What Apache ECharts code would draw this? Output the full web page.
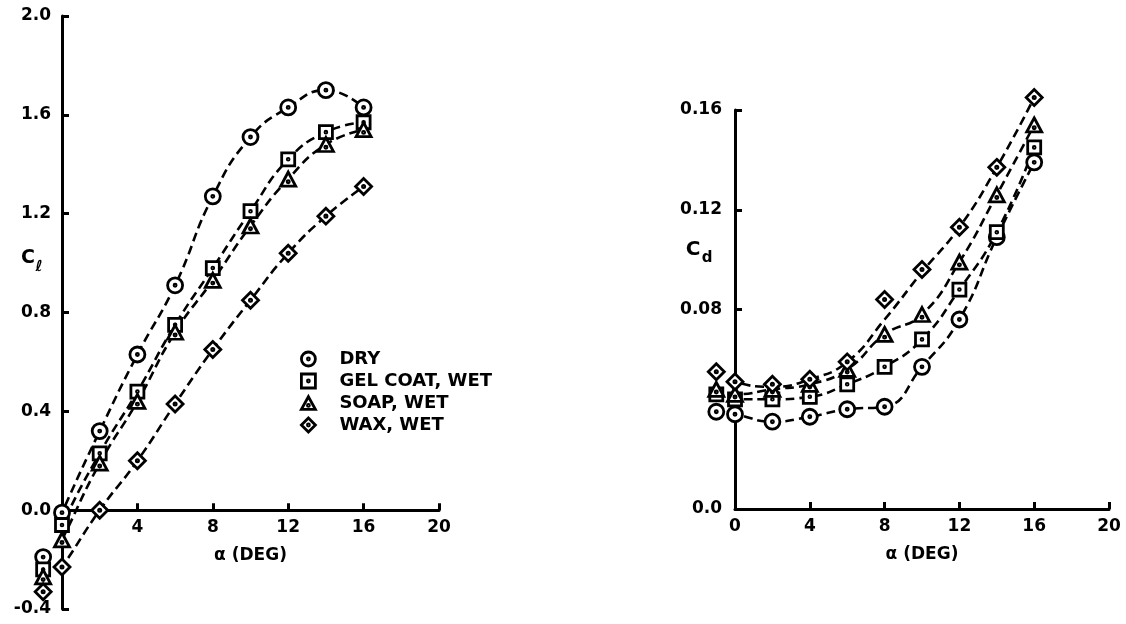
<!DOCTYPE html>
<html>
<head>
<meta charset="utf-8">
<title>Lift and drag coefficients</title>
<script src="https://cdn.jsdelivr.net/npm/echarts@6.0.0/dist/echarts.min.js"></script>
<style>
  html, body { margin: 0; padding: 0; background: #fff; }
  #chart { width: 1126px; height: 624px; }
</style>
</head>
<body>
<div id="chart"></div>
<script>
// Angle of attack (deg) for every measured point
const alpha = [-1, 0, 2, 4, 6, 8, 10, 12, 14, 16];
const seriesNames = ['DRY', 'GEL COAT, WET', 'SOAP, WET', 'WAX, WET'];

// Lift coefficient C_l
const clDry  = [-0.19, -0.01, 0.32, 0.63, 0.91, 1.27, 1.51, 1.63, 1.70, 1.63];
const clGel  = [-0.24, -0.06, 0.23, 0.48, 0.75, 0.98, 1.21, 1.42, 1.53, 1.57];
const clSoap = [-0.27, -0.12, 0.19, 0.44, 0.72, 0.93, 1.15, 1.34, 1.48, 1.54];
const clWax  = [-0.33, -0.23, 0.00, 0.20, 0.43, 0.65, 0.85, 1.04, 1.19, 1.31];

// Drag coefficient C_d
const cdDry  = [0.039, 0.038, 0.035, 0.037, 0.040, 0.041, 0.057, 0.076, 0.109, 0.139];
const cdGel  = [0.046, 0.044, 0.044, 0.045, 0.050, 0.057, 0.068, 0.088, 0.111, 0.145];
const cdSoap = [0.048, 0.046, 0.048, 0.050, 0.056, 0.070, 0.078, 0.099, 0.126, 0.154];
const cdWax  = [0.055, 0.051, 0.050, 0.052, 0.059, 0.084, 0.096, 0.113, 0.137, 0.165];
// Faired curve through the wax drag points (the 8 deg point lies off the curve)
const cdWaxFaired = [0.055, 0.051, 0.049, 0.052, 0.059, 0.076, 0.095, 0.113, 0.137, 0.165];

// Tick values
const xTicks  = [0, 4, 8, 12, 16, 20];
const clTicks = [-0.4, 0, 0.4, 0.8, 1.2, 1.6, 2.0];
const cdTicks = [0, 0.08, 0.12, 0.16];

// Hollow markers with a solid centre dot
const symbols = [
  'path://M0,-10A10,10,0,1,1,0,10A10,10,0,1,1,0,-10ZM0,-1.4A1.4,1.4,0,1,1,0,1.4A1.4,1.4,0,1,1,0,-1.4Z',
  'path://M-10,-10L10,-10L10,10L-10,10ZM0,-1.4A1.4,1.4,0,1,1,0,1.4A1.4,1.4,0,1,1,0,-1.4Z',
  'path://M0,-10L10,8L-10,8ZM0,1.1A1.4,1.4,0,1,1,0,3.9A1.4,1.4,0,1,1,0,1.1Z',
  'path://M0,-10L10,0L0,10L-10,0ZM0,-1.4A1.4,1.4,0,1,1,0,1.4A1.4,1.4,0,1,1,0,-1.4Z'
];
const symbolSizes = [[15, 15], [13, 13], [15, 14], [16, 16]];

const FONT = 'DejaVu Sans';
const INK = '#000';

// Grid geometry (pixels)
const LEFT_GRID = { left: 62, top: 16, width: 377, height: 593 };
const RIGHT_GRID = { left: 735, top: 110, width: 374, height: 399 };
// The lift panel's alpha axis sits at C_l = 0, a sixth of the way up
const LEFT_X_OFFSET = -LEFT_GRID.height * (0 - clTicks[0]) / (clTicks[clTicks.length - 1] - clTicks[0]);

function pairs(values) {
  return alpha.map((a, i) => [a, values[i]]);
}

function axisBase() {
  return {
    type: 'value',
    axisLine: { show: true, onZero: false, lineStyle: { color: INK, width: 3 } },
    axisTick: { show: true, inside: true, length: 7, lineStyle: { color: INK, width: 3 } },
    splitLine: { show: false },
    axisLabel: { color: INK, fontSize: 17, fontWeight: 'bold', fontFamily: FONT }
  };
}

function curve(name, values, xi) {
  return {
    type: 'line', name: name, xAxisIndex: xi, yAxisIndex: xi,
    data: pairs(values), showSymbol: false, smooth: 0.5,
    clip: false, silent: true, z: 2,
    lineStyle: { color: INK, width: 2.6, type: [9, 5] }
  };
}

function points(name, values, xi, k) {
  return {
    type: 'scatter', name: name, xAxisIndex: xi, yAxisIndex: xi,
    data: pairs(values), symbol: symbols[k], symbolSize: symbolSizes[k],
    clip: false, silent: true, z: 3,
    itemStyle: { color: '#fff', borderColor: INK, borderWidth: 2.8, opacity: 1 }
  };
}

const clSets = [clDry, clGel, clSoap, clWax];
const cdSets = [cdDry, cdGel, cdSoap, cdWax];
const cdCurves = [cdDry, cdGel, cdSoap, cdWaxFaired];

const series = [];
seriesNames.forEach((n, k) => {
  series.push(curve(n, clSets[k], 0));
  series.push(curve(n, cdCurves[k], 1));
});
seriesNames.forEach((n, k) => {
  series.push(points(n, clSets[k], 0, k));
  series.push(points(n, cdSets[k], 1, k));
});

const nameStyle = { color: INK, fontSize: 17, fontWeight: 'bold', fontFamily: FONT };

const xLeft = axisBase();
Object.assign(xLeft, {
  gridIndex: 0, min: 0, max: 20, interval: 4, position: 'bottom', offset: LEFT_X_OFFSET,
  name: 'α (DEG)', nameLocation: 'middle', nameGap: 37, nameTextStyle: nameStyle
});
xLeft.axisLabel = Object.assign({}, xLeft.axisLabel, {
  margin: 9, customValues: xTicks, formatter: v => (v === 0 ? '' : String(v))
});
xLeft.axisTick = Object.assign({}, xLeft.axisTick, { customValues: xTicks });

const xRight = axisBase();
Object.assign(xRight, {
  gridIndex: 1, min: 0, max: 20, interval: 4, position: 'bottom',
  name: 'α (DEG)', nameLocation: 'middle', nameGap: 37, nameTextStyle: nameStyle
});
xRight.axisLabel = Object.assign({}, xRight.axisLabel, {
  margin: 9, customValues: xTicks, formatter: v => String(v)
});
xRight.axisTick = Object.assign({}, xRight.axisTick, { customValues: xTicks });

const yLeft = axisBase();
Object.assign(yLeft, { gridIndex: 0, min: -0.4, max: 2.0, interval: 0.4, position: 'left' });
yLeft.axisLabel = Object.assign({}, yLeft.axisLabel, {
  margin: 11, customValues: clTicks,
  formatter: v => (Math.abs(v) < 1e-9 ? '0.0' : v.toFixed(1))
});
yLeft.axisTick = Object.assign({}, yLeft.axisTick, { customValues: clTicks });

const yRight = axisBase();
Object.assign(yRight, { gridIndex: 1, min: 0, max: 0.16, interval: 0.04, position: 'left' });
yRight.axisLabel = Object.assign({}, yRight.axisLabel, {
  margin: 13, customValues: cdTicks,
  formatter: v => (Math.abs(v) < 1e-9 ? '0.0' : v.toFixed(2))
});
yRight.axisTick = Object.assign({}, yRight.axisTick, { customValues: cdTicks });

const label = (text, x, y, size) => ({
  type: 'text', x: x, y: y, silent: true,
  style: {
    text: text, fill: INK, fontSize: size, fontWeight: 'bold', fontFamily: FONT,
    align: 'center', verticalAlign: 'middle'
  }
});

const option = {
  backgroundColor: '#fff',
  animation: false,
  grid: [
    Object.assign({ outerBoundsMode: 'none', containLabel: false }, LEFT_GRID),
    Object.assign({ outerBoundsMode: 'none', containLabel: false }, RIGHT_GRID)
  ],
  xAxis: [xLeft, xRight],
  yAxis: [yLeft, yRight],
  legend: {
    orient: 'vertical', left: 295, top: 345,
    itemWidth: 14, itemHeight: 14, itemGap: 4,
    selectedMode: false,
    data: seriesNames.map((n, k) => ({ name: n, icon: symbols[k] })),
    itemStyle: { color: '#fff', borderColor: INK, borderWidth: 2.8 },
    textStyle: {
      color: INK, fontSize: 18, fontWeight: 'bold', fontFamily: FONT,
      lineHeight: 18, padding: [0, 0, 0, 19]
    }
  },
  graphic: [
    label('C', 28, 258, 19),
    label('ℓ', 39, 267, 15),
    label('C', 693, 250, 20),
    label('d', 707, 258, 15)
  ],
  series: series
};

const chart = echarts.init(document.getElementById('chart'), null, { renderer: 'canvas' });
chart.setOption(option);
</script>
</body>
</html>
